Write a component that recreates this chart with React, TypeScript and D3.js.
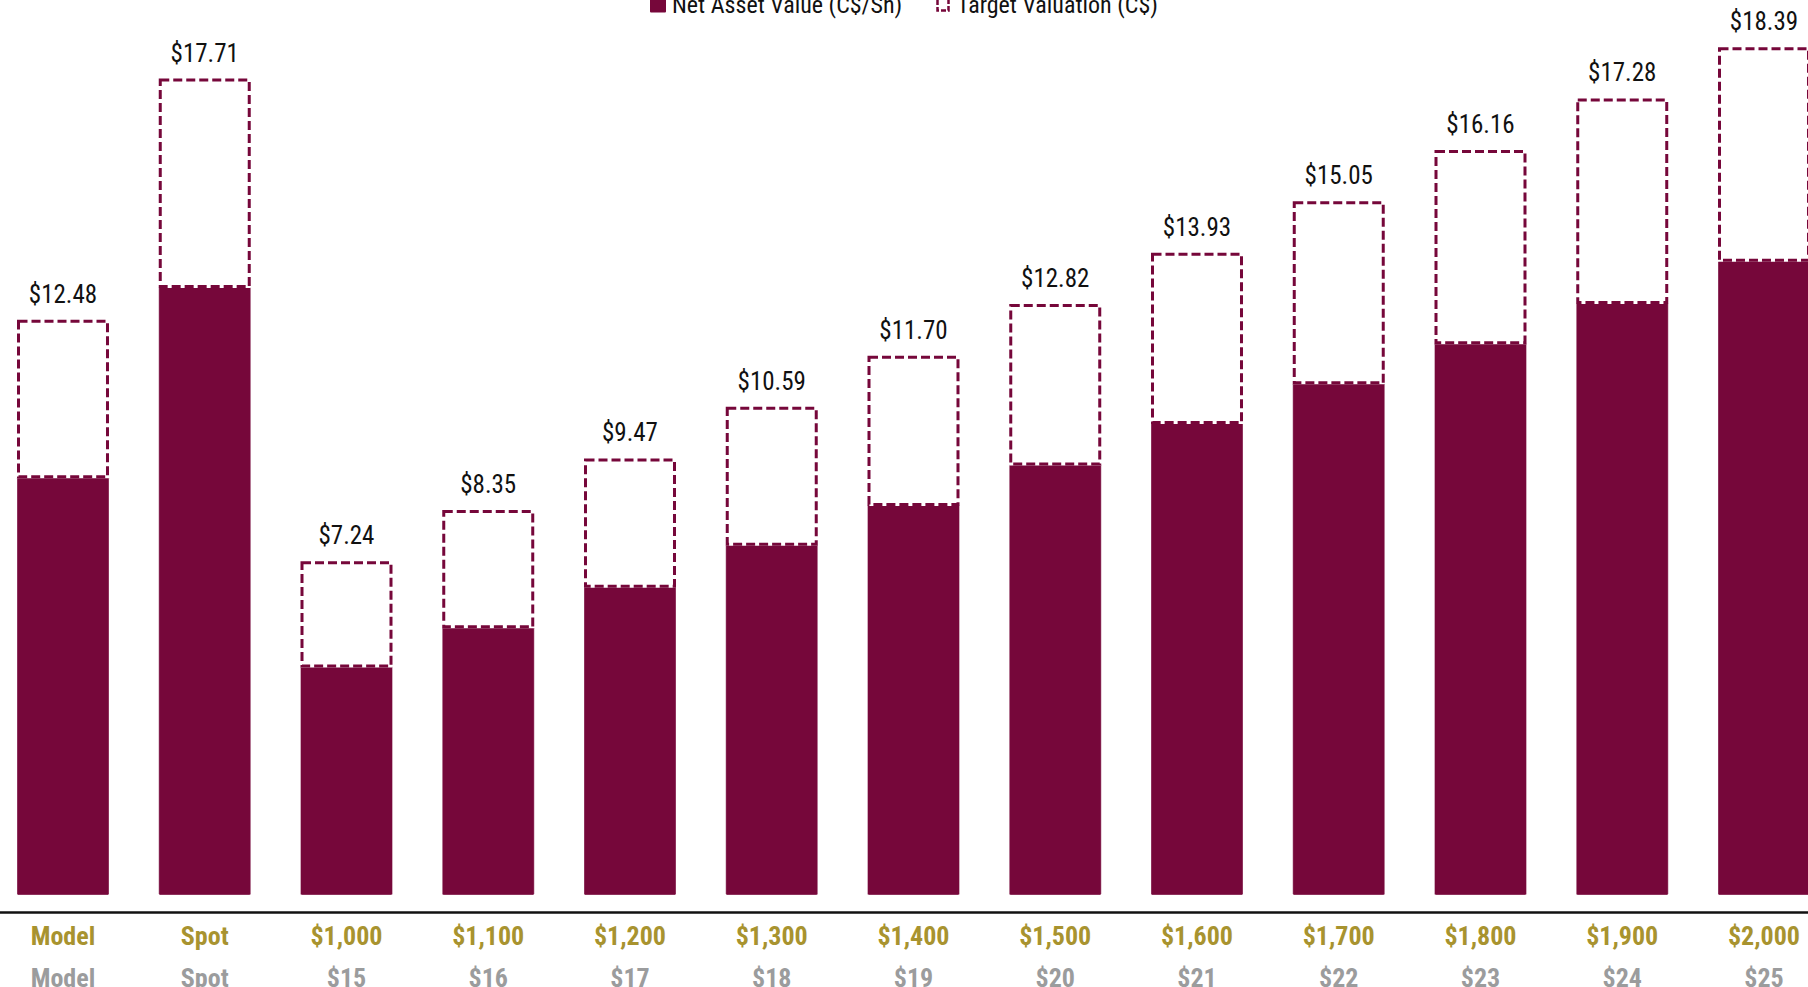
import React from "react";
import * as d3 from "d3";

const categories = ["Model", "Spot", "$1,000", "$1,100", "$1,200", "$1,300", "$1,400", "$1,500", "$1,600", "$1,700", "$1,800", "$1,900", "$2,000"];
const secondRow = ["Model", "Spot", "$15", "$16", "$17", "$18", "$19", "$20", "$21", "$22", "$23", "$24", "$25"];
const navValues = [9.07, 13.2, 4.97, 5.82, 6.7, 7.61, 8.47, 9.35, 10.25, 11.11, 11.98, 12.85, 13.77];
const targetValues = [12.48, 17.71, 7.24, 8.35, 9.47, 10.59, 11.7, 12.82, 13.93, 15.05, 16.16, 17.28, 18.39];
const legendLabels = ["Net Asset Value (C$/Sh)", "Target Valuation (C$)"];

const W = 1808;
const H = 987;
const MAROON = "#76073A";
const GOLD = "#A8932F";
const GRAY = "#9B9C9D";
const FONT = "'Liberation Sans Narrow', 'Roboto Condensed', 'DejaVu Sans Condensed', 'Arial Narrow', sans-serif";

export default function App() {
  const step = 141.75;
  const pi = 0.351;
  const x0 = 17;
  const x = d3.scaleBand<string>().domain(categories).range([x0, x0 + step * (categories.length - pi)]).paddingInner(pi).paddingOuter(0);
  const baseY = 895;
  const y = d3.scaleLinear().domain([0, baseY / 46.1]).range([baseY, 0]);
  const bw = x.bandwidth();

  return (
    <svg width={W} height={H} style={{ position: "fixed", left: 0, top: 0, background: "#fff" }} fontFamily={FONT}>
      <rect x={0} y={0} width={W} height={H} fill="#fff" />
      {categories.map((c, i) => {
        const bx = x(c)!;
        const navY = y(navValues[i]);
        const tY = y(targetValues[i]);
        return (
          <g key={c}>
            <rect x={bx} y={navY} width={bw} height={baseY - navY} fill={MAROON} stroke="#fff" strokeOpacity={0.35} strokeWidth={1} rx={1.5} />
            <line x1={bx} x2={bx + bw} y1={navY} y2={navY} stroke="#fff" strokeWidth={3} />
            <rect x={bx + 1.5} y={tY + 1.5} width={bw - 3} height={navY - tY - 1.5} fill="none" stroke={MAROON} strokeWidth={3} strokeDasharray="9,4" />
            <text x={bx + bw / 2} y={tY - 17} textAnchor="middle" fontSize={25} fill="#111">
              ${targetValues[i].toFixed(2)}
            </text>
            <text x={bx + bw / 2} y={945} textAnchor="middle" fontSize={26} fontWeight="bold" fill={GOLD}>
              {c}
            </text>
            <text x={bx + bw / 2} y={987} textAnchor="middle" fontSize={26} fontWeight="bold" fill={GRAY}>
              {secondRow[i]}
            </text>
          </g>
        );
      })}
      <line x1={0} x2={W} y1={912.5} y2={912.5} stroke="#111" strokeWidth={2.5} />
      <g>
        <rect x={650} y={-4} width={16} height={16.5} fill={MAROON} rx={1} />
        <text x={672} y={13} fontSize={24} fill="#111">{legendLabels[0]}</text>
        <rect x={937.5} y={-4} width={11} height={14.5} fill="#fff" stroke={MAROON} strokeWidth={2.5} strokeDasharray="5,2" />
        <text x={957} y={13} fontSize={24} fill="#111">{legendLabels[1]}</text>
      </g>
    </svg>
  );
}
